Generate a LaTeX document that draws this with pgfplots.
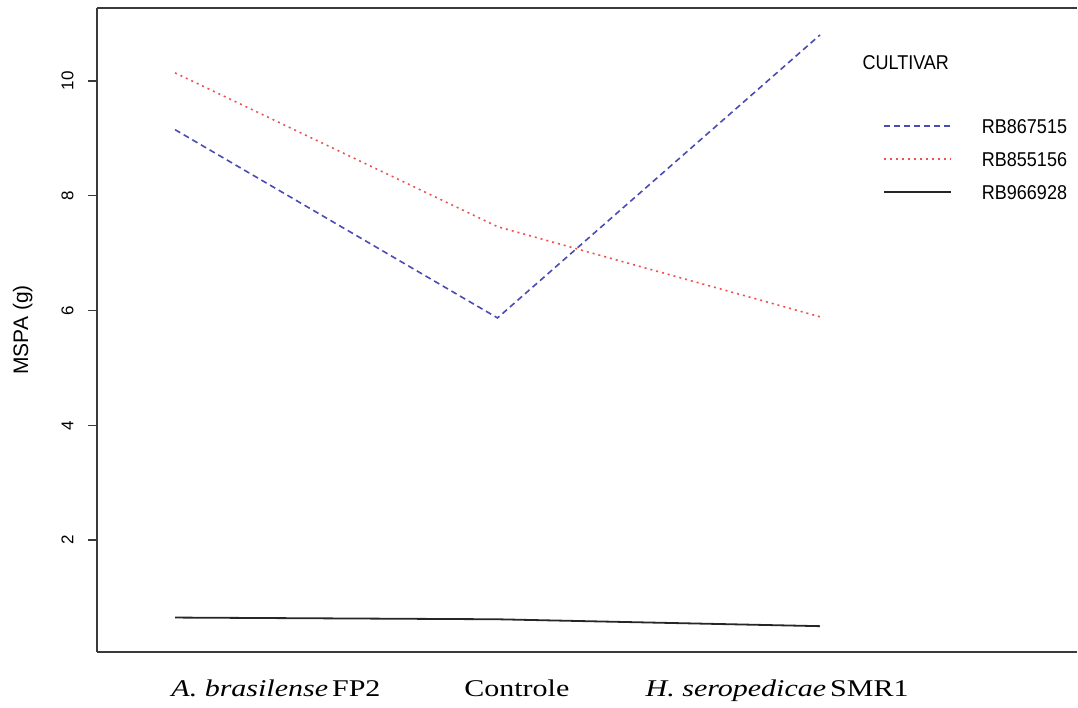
\documentclass[border=0pt]{standalone}
\usepackage{pgfplots}
\pgfplotsset{compat=1.18}
\usepackage{fontspec}
\setmainfont{Liberation Serif}
\newfontfamily\arial{Liberation Sans}
\newfontfamily\arialn[FakeStretch=0.9]{Liberation Sans}
\newfontfamily\timesw[FakeStretch=1.25]{Liberation Serif}
\definecolor{cblue}{HTML}{4B4BB5}
\definecolor{cred}{HTML}{F25050}
\definecolor{caxis}{HTML}{3A3A3A}
\begin{document}
\begin{tikzpicture}
\begin{axis}[
  scale only axis, width=980pt, height=644pt,
  xmin=-0.242, xmax=2.797,
  ymin=0.05, ymax=11.27,
  axis x line*=bottom,
  axis y line*=left,
  axis line style={draw=caxis, line width=2pt, -},
  clip=false,
  xtick={0.313,1.06,1.867},
  xticklabels={{\itshape A. brasilense}\,FP2, Controle, {\itshape H. seropedicae}\,SMR1},
  x tick label style={font=\timesw\fontsize{24}{28}\selectfont, yshift=-15pt},
  xtick style={draw=none},
  ytick={2,4,6,8,10},
  tick align=outside,
  major tick length=9pt,
  ytick style={draw=caxis, line width=1.2pt},
  y tick label style={font=\arial\fontsize{17}{20}\selectfont, rotate=90, anchor=south, yshift=11pt},
  /pgf/number format/assume math mode=true,
  ylabel={MSPA (g)},
  ylabel style={font=\arial\fontsize{21}{24}\selectfont, yshift=22pt},
  legend cell align=left,
  legend style={draw=none, fill=none, at={(rel axis cs:0.802,0.8276)}, anchor=north west,
    font=\arialn\fontsize{20}{24}\selectfont, inner sep=0pt, row sep=19pt,
    nodes={inner sep=0pt, text height=14pt, text depth=0pt}},
  legend image code/.code={\draw[#1] (0pt,0pt) -- (67pt,0pt);},
  /tikz/every even column/.append style={column sep=0pt},
  /tikz/every odd column/.append style={column sep=30pt},
]
\addplot[cblue, line width=1.6pt, dash pattern=on 6pt off 4pt] coordinates {(0,9.15) (1,5.87) (2,10.8)};
\addlegendentry{RB867515}
\addplot[cred, line width=1.6pt, dash pattern=on 2pt off 4pt] coordinates {(0,10.14) (1,7.46) (2,5.89)};
\addlegendentry{RB855156}
\addplot[black!85, line width=1.8pt] coordinates {(0,0.65) (1,0.62) (2,0.5)};
\addlegendentry{RB966928}
\draw[caxis, line width=2pt] (rel axis cs:0,1) -- (rel axis cs:1,1);
\pgfplotsinvokeforeach{2,4,6,8,10}{
  \draw[caxis, line width=1.5pt] ([xshift=-9pt]axis cs:-0.242,#1) -- (axis cs:-0.242,#1);
}
\node[anchor=west, font=\arialn\fontsize{20}{24}\selectfont, inner sep=0pt] at (rel axis cs:0.781,0.9146) {CULTIVAR};
\path (rel axis cs:0,0) ++(-97pt,-56pt) coordinate (bbsw);
\path (rel axis cs:0,0) ++(981pt,652pt) coordinate (bbne);
\end{axis}
\pgfresetboundingbox
\useasboundingbox (bbsw) rectangle (bbne);
\end{tikzpicture}
\end{document}
